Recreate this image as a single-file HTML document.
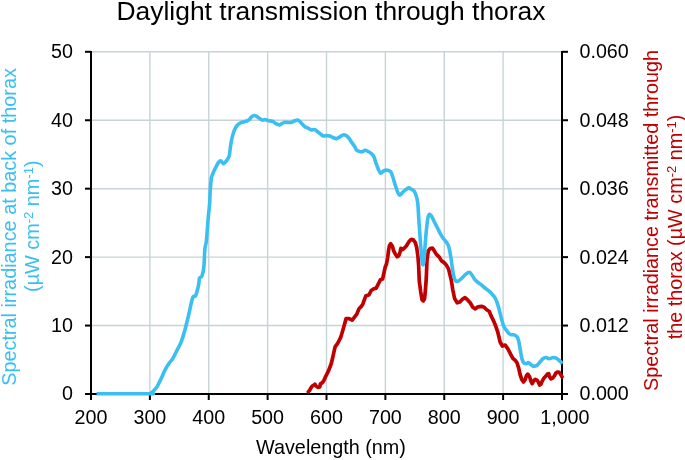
<!DOCTYPE html><html><head><meta charset="utf-8"><style>html,body{margin:0;padding:0;background:#fff;}svg{display:block;will-change:transform;} text{font-family:"Liberation Sans",sans-serif;}</style></head><body><svg width="685" height="460" viewBox="0 0 685 460"><g stroke="#c7d4d6" stroke-width="1.4"><line x1="149.88" y1="51.80" x2="149.88" y2="394.00"/><line x1="208.75" y1="51.80" x2="208.75" y2="394.00"/><line x1="267.62" y1="51.80" x2="267.62" y2="394.00"/><line x1="326.50" y1="51.80" x2="326.50" y2="394.00"/><line x1="385.38" y1="51.80" x2="385.38" y2="394.00"/><line x1="444.25" y1="51.80" x2="444.25" y2="394.00"/><line x1="503.12" y1="51.80" x2="503.12" y2="394.00"/><line x1="91.00" y1="325.56" x2="562.00" y2="325.56"/><line x1="91.00" y1="257.12" x2="562.00" y2="257.12"/><line x1="91.00" y1="188.68" x2="562.00" y2="188.68"/><line x1="91.00" y1="120.24" x2="562.00" y2="120.24"/><line x1="91.00" y1="51.80" x2="562.00" y2="51.80"/></g><g stroke="#000" stroke-width="2"><line x1="91.00" y1="51.00" x2="91.00" y2="400.00"/><line x1="562.00" y1="51.00" x2="562.00" y2="400.00"/><line x1="85.00" y1="394.00" x2="568.00" y2="394.00"/><line x1="85.00" y1="325.56" x2="91.00" y2="325.56"/><line x1="562.00" y1="325.56" x2="568.00" y2="325.56"/><line x1="85.00" y1="257.12" x2="91.00" y2="257.12"/><line x1="562.00" y1="257.12" x2="568.00" y2="257.12"/><line x1="85.00" y1="188.68" x2="91.00" y2="188.68"/><line x1="562.00" y1="188.68" x2="568.00" y2="188.68"/><line x1="85.00" y1="120.24" x2="91.00" y2="120.24"/><line x1="562.00" y1="120.24" x2="568.00" y2="120.24"/><line x1="85.00" y1="51.80" x2="91.00" y2="51.80"/><line x1="562.00" y1="51.80" x2="568.00" y2="51.80"/><line x1="149.88" y1="394.00" x2="149.88" y2="400.00"/><line x1="208.75" y1="394.00" x2="208.75" y2="400.00"/><line x1="267.62" y1="394.00" x2="267.62" y2="400.00"/><line x1="326.50" y1="394.00" x2="326.50" y2="400.00"/><line x1="385.38" y1="394.00" x2="385.38" y2="400.00"/><line x1="444.25" y1="394.00" x2="444.25" y2="400.00"/><line x1="503.12" y1="394.00" x2="503.12" y2="400.00"/></g><path d="M308.3,391.7 L309.6,390.4 L310.9,387.8 L312.2,386.1 L313.9,385.2 L315.0,384.3 L316.1,386.1 L317.8,387.4 L319.8,387.0 L320.4,383.9 L322.2,382.8 L323.5,381.3 L325.2,377.4 L327.0,373.9 L328.7,370.4 L330.0,367.0 L331.3,363.5 L332.6,358.0 L333.4,354.3 L335.1,346.9 L337.8,343.2 L340.6,337.7 L343.2,329.0 L344.6,324.0 L346.1,318.6 L349.1,318.6 L352.2,320.1 L354.5,317.1 L356.8,314.1 L359.0,308.7 L361.3,306.4 L362.8,304.2 L364.4,299.6 L365.9,295.8 L368.9,295.0 L371.2,290.5 L373.5,288.9 L376.2,288.2 L378.1,284.4 L380.4,279.8 L382.6,279.0 L383.9,273.1 L385.2,267.2 L386.5,263.9 L387.6,258.1 L388.5,250.9 L389.4,245.7 L390.7,243.7 L392.4,246.3 L393.7,250.9 L395.4,254.2 L397.2,256.8 L398.9,255.5 L400.2,251.5 L400.9,248.3 L402.5,249.6 L404.2,248.3 L406.1,246.3 L407.7,243.7 L409.4,241.1 L411.3,239.4 L413.3,239.8 L415.2,242.4 L416.6,247.0 L417.9,256.1 L418.6,265.0 L419.3,281.3 L420.7,291.7 L422.0,299.6 L423.3,300.9 L424.6,298.7 L425.4,290.0 L426.3,278.0 L427.0,260.0 L428.3,250.9 L430.1,248.5 L432.4,248.0 L433.9,250.3 L436.2,254.1 L439.3,257.1 L441.5,260.9 L443.8,262.4 L446.1,264.7 L448.5,268.9 L451.1,279.3 L452.8,289.8 L454.6,298.5 L457.2,302.8 L459.8,302.0 L462.4,299.3 L465.0,297.6 L467.6,299.9 L470.2,302.8 L472.8,307.2 L475.4,308.9 L478.0,306.8 L481.5,306.3 L484.1,307.2 L486.7,309.8 L489.3,311.5 L491.1,315.9 L493.7,321.1 L495.8,326.3 L497.8,332.2 L500.2,342.3 L502.4,346.0 L505.2,345.1 L507.9,348.8 L510.7,354.3 L513.0,358.6 L515.2,360.2 L517.0,362.8 L518.7,368.1 L520.0,374.1 L521.7,379.4 L523.5,382.0 L525.2,379.4 L526.5,375.5 L527.8,374.1 L529.6,376.8 L530.9,381.1 L532.2,383.7 L533.5,381.1 L535.2,379.4 L537.0,380.2 L538.3,382.0 L539.6,385.0 L540.9,384.2 L542.2,381.1 L543.9,378.1 L545.7,376.3 L547.4,374.1 L548.7,373.7 L549.6,376.8 L550.9,378.9 L552.6,378.1 L554.4,375.9 L555.7,373.3 L557.4,372.0 L559.2,372.4 L560.5,374.1 L562.0,376.8" fill="none" stroke="#c00000" stroke-width="3.7" stroke-linejoin="round" stroke-linecap="round"/><path d="M96.60,393.75 C105.33,393.74 139.93,393.81 149.00,393.70 C158.07,393.59 150.18,393.65 151.00,393.10 C151.82,392.55 152.83,391.57 153.90,390.40 C154.97,389.23 156.10,388.27 157.40,386.10 C158.70,383.93 160.40,380.15 161.70,377.40 C163.00,374.65 163.88,372.07 165.20,369.60 C166.52,367.13 168.30,364.48 169.60,362.60 C170.90,360.72 171.85,360.18 173.00,358.30 C174.15,356.42 175.18,353.92 176.50,351.30 C177.82,348.68 179.60,345.78 180.90,342.60 C182.20,339.42 183.28,335.68 184.30,332.20 C185.32,328.72 186.25,324.68 187.00,321.70 C187.75,318.72 187.85,318.32 188.80,314.30 C189.75,310.28 191.57,300.70 192.70,297.60 C193.83,294.50 194.62,297.80 195.60,295.70 C196.58,293.60 197.95,287.93 198.60,285.00 C199.25,282.07 198.95,279.57 199.50,278.10 C200.05,276.63 201.18,277.98 201.90,276.20 C202.62,274.42 203.38,270.50 203.80,267.40 C204.22,264.30 204.20,260.87 204.40,257.60 C204.60,254.33 204.67,250.60 205.00,247.80 C205.33,245.00 205.87,245.78 206.40,240.80 C206.93,235.82 207.68,223.87 208.20,217.90 C208.72,211.93 209.20,208.82 209.50,205.00 C209.80,201.18 209.87,197.65 210.00,195.00 C210.13,192.35 210.15,191.17 210.30,189.10 C210.45,187.03 210.72,184.50 210.90,182.60 C211.08,180.70 211.13,179.05 211.40,177.70 C211.67,176.35 212.05,175.67 212.50,174.50 C212.95,173.33 213.47,172.07 214.10,170.70 C214.73,169.33 215.57,167.67 216.30,166.30 C217.03,164.93 217.77,163.40 218.50,162.50 C219.23,161.60 220.07,160.90 220.70,160.90 C221.33,160.90 221.80,162.05 222.30,162.50 C222.80,162.95 223.17,163.68 223.70,163.60 C224.23,163.52 224.83,162.73 225.50,162.00 C226.17,161.27 227.07,160.30 227.70,159.20 C228.33,158.10 228.95,156.60 229.30,155.40 C229.65,154.20 229.57,153.73 229.80,152.00 C230.03,150.27 230.33,147.32 230.70,145.00 C231.07,142.68 231.50,140.27 232.00,138.10 C232.50,135.93 233.05,133.82 233.70,132.00 C234.35,130.18 235.10,128.50 235.90,127.20 C236.70,125.90 237.55,125.00 238.50,124.20 C239.45,123.40 240.58,122.82 241.60,122.40 C242.62,121.98 243.58,121.98 244.60,121.70 C245.62,121.42 246.83,121.15 247.70,120.70 C248.57,120.25 249.15,119.65 249.80,119.00 C250.45,118.35 250.80,117.38 251.60,116.80 C252.40,116.22 253.67,115.52 254.60,115.50 C255.53,115.48 256.28,116.15 257.20,116.70 C258.12,117.25 259.22,118.22 260.10,118.80 C260.98,119.38 261.72,120.07 262.50,120.20 C263.28,120.33 263.93,119.57 264.80,119.60 C265.67,119.63 266.73,120.15 267.70,120.40 C268.67,120.65 269.72,120.93 270.60,121.10 C271.48,121.27 272.12,120.97 273.00,121.40 C273.88,121.83 274.83,123.12 275.90,123.70 C276.97,124.28 278.43,124.90 279.40,124.90 C280.37,124.90 280.83,124.13 281.70,123.70 C282.57,123.27 283.43,122.50 284.60,122.30 C285.77,122.10 287.53,122.50 288.70,122.50 C289.87,122.50 290.62,122.58 291.60,122.30 C292.58,122.02 293.62,121.18 294.60,120.80 C295.58,120.42 296.57,119.83 297.50,120.00 C298.43,120.17 299.35,121.07 300.20,121.80 C301.05,122.53 301.73,123.53 302.60,124.40 C303.47,125.27 304.43,126.33 305.40,127.00 C306.37,127.67 307.40,127.92 308.40,128.40 C309.40,128.88 310.42,129.70 311.40,129.90 C312.38,130.10 313.32,129.33 314.30,129.60 C315.28,129.87 316.30,130.78 317.30,131.50 C318.30,132.22 319.30,133.17 320.30,133.90 C321.30,134.63 322.30,135.62 323.30,135.90 C324.30,136.18 325.20,135.60 326.30,135.60 C327.40,135.60 328.80,135.58 329.90,135.90 C331.00,136.22 331.80,137.05 332.90,137.50 C334.00,137.95 335.40,138.67 336.50,138.60 C337.60,138.53 338.50,137.68 339.50,137.10 C340.50,136.52 341.52,135.43 342.50,135.10 C343.48,134.77 344.42,134.70 345.40,135.10 C346.38,135.50 347.40,136.37 348.40,137.50 C349.40,138.63 350.40,140.47 351.40,141.90 C352.40,143.33 353.50,144.70 354.40,146.10 C355.30,147.50 355.90,149.40 356.80,150.30 C357.70,151.20 358.90,151.25 359.80,151.50 C360.70,151.75 361.30,152.00 362.20,151.80 C363.10,151.60 364.20,150.35 365.20,150.30 C366.20,150.25 367.12,150.90 368.20,151.50 C369.28,152.10 370.77,153.08 371.70,153.90 C372.63,154.72 373.07,154.83 373.80,156.40 C374.53,157.97 375.33,161.13 376.10,163.30 C376.87,165.47 377.63,167.75 378.40,169.40 C379.17,171.05 379.82,172.95 380.70,173.20 C381.58,173.45 382.68,171.42 383.70,170.90 C384.72,170.38 385.65,169.98 386.80,170.10 C387.95,170.22 389.60,170.45 390.60,171.60 C391.60,172.75 392.05,174.83 392.80,177.00 C393.55,179.17 394.33,182.20 395.10,184.60 C395.87,187.00 396.63,189.62 397.40,191.40 C398.17,193.18 398.82,195.17 399.70,195.30 C400.58,195.43 401.68,193.15 402.70,192.20 C403.72,191.25 404.78,190.32 405.80,189.60 C406.82,188.88 407.90,187.97 408.80,187.90 C409.70,187.83 410.35,188.72 411.20,189.20 C412.05,189.68 413.07,189.72 413.90,190.80 C414.73,191.88 415.55,193.58 416.20,195.70 C416.85,197.82 417.37,199.58 417.80,203.50 C418.23,207.42 418.40,213.32 418.80,219.20 C419.20,225.08 419.77,232.92 420.20,238.80 C420.63,244.68 421.03,250.42 421.40,254.50 C421.77,258.58 422.10,261.63 422.40,263.30 C422.70,264.97 422.93,264.98 423.20,264.50 C423.47,264.02 423.65,264.03 424.00,260.40 C424.35,256.77 424.85,248.25 425.30,242.70 C425.75,237.15 426.25,231.33 426.70,227.10 C427.15,222.87 427.52,219.43 428.00,217.30 C428.48,215.17 429.00,214.47 429.60,214.30 C430.20,214.13 430.78,214.98 431.60,216.30 C432.42,217.62 433.52,220.25 434.50,222.20 C435.48,224.15 436.52,226.05 437.50,228.00 C438.48,229.95 439.47,232.22 440.40,233.90 C441.33,235.58 442.15,236.77 443.10,238.10 C444.05,239.43 445.22,240.63 446.10,241.90 C446.98,243.17 447.77,244.05 448.40,245.70 C449.03,247.35 449.40,249.27 449.90,251.80 C450.40,254.33 451.05,258.63 451.40,260.90 C451.75,263.17 451.62,262.90 452.00,265.40 C452.38,267.90 453.07,273.28 453.70,275.90 C454.33,278.52 454.93,280.30 455.80,281.10 C456.67,281.90 457.80,281.28 458.90,280.70 C460.00,280.12 461.23,278.70 462.40,277.60 C463.57,276.50 464.75,274.97 465.90,274.10 C467.05,273.23 468.28,272.25 469.30,272.40 C470.32,272.55 471.12,273.85 472.00,275.00 C472.88,276.15 473.60,278.05 474.60,279.30 C475.60,280.55 476.85,281.57 478.00,282.50 C479.15,283.43 480.33,283.98 481.50,284.90 C482.67,285.82 483.83,287.03 485.00,288.00 C486.17,288.97 487.33,289.68 488.50,290.70 C489.67,291.72 490.85,292.80 492.00,294.10 C493.15,295.40 494.40,296.62 495.40,298.50 C496.40,300.38 497.18,302.80 498.00,305.40 C498.82,308.00 499.67,311.67 500.30,314.10 C500.93,316.53 501.25,318.02 501.80,320.00 C502.35,321.98 503.00,324.50 503.60,326.00 C504.20,327.50 504.80,328.10 505.40,329.00 C506.00,329.90 506.60,330.65 507.20,331.40 C507.80,332.15 508.40,332.97 509.00,333.50 C509.60,334.03 510.12,334.38 510.80,334.60 C511.48,334.82 512.32,334.65 513.10,334.80 C513.88,334.95 514.80,335.08 515.50,335.50 C516.20,335.92 516.80,336.50 517.30,337.30 C517.80,338.10 518.10,338.80 518.50,340.30 C518.90,341.80 519.30,344.10 519.70,346.30 C520.10,348.50 520.50,351.32 520.90,353.50 C521.30,355.68 521.60,357.82 522.10,359.40 C522.60,360.98 523.20,362.30 523.90,363.00 C524.60,363.70 525.57,363.67 526.30,363.60 C527.03,363.53 527.60,362.50 528.30,362.60 C529.00,362.70 529.73,363.63 530.50,364.20 C531.27,364.77 532.12,365.70 532.90,366.00 C533.68,366.30 534.42,366.20 535.20,366.00 C535.98,365.80 536.80,365.47 537.60,364.80 C538.40,364.13 539.23,362.90 540.00,362.00 C540.77,361.10 541.47,360.10 542.20,359.40 C542.93,358.70 543.73,358.12 544.40,357.80 C545.07,357.48 545.50,357.37 546.20,357.50 C546.90,357.63 547.82,358.48 548.60,358.60 C549.38,358.72 550.08,358.38 550.90,358.20 C551.72,358.02 552.63,357.50 553.50,357.50 C554.37,357.50 555.23,357.78 556.10,358.20 C556.97,358.62 557.90,359.37 558.70,360.00 C559.50,360.63 560.32,361.37 560.90,362.00 C561.48,362.63 561.98,363.50 562.20,363.80" fill="none" stroke="#3bbff3" stroke-width="3.6" stroke-linejoin="round"/><g font-size="19.7" fill="#000"><text x="73" y="400.4" text-anchor="end">0</text><text x="73" y="332.0" text-anchor="end">10</text><text x="73" y="263.5" text-anchor="end">20</text><text x="73" y="195.1" text-anchor="end">30</text><text x="73" y="126.6" text-anchor="end">40</text><text x="73" y="58.2" text-anchor="end">50</text><text x="579.5" y="400.4">0.000</text><text x="579.5" y="332.0">0.012</text><text x="579.5" y="263.5">0.024</text><text x="579.5" y="195.1">0.036</text><text x="579.5" y="126.6">0.048</text><text x="579.5" y="58.2">0.060</text><text x="91.0" y="424" text-anchor="middle">200</text><text x="149.9" y="424" text-anchor="middle">300</text><text x="208.8" y="424" text-anchor="middle">400</text><text x="267.6" y="424" text-anchor="middle">500</text><text x="326.5" y="424" text-anchor="middle">600</text><text x="385.4" y="424" text-anchor="middle">700</text><text x="444.2" y="424" text-anchor="middle">800</text><text x="503.1" y="424" text-anchor="middle">900</text><text x="564.9" y="424" text-anchor="middle">1,000</text></g><text x="331" y="453.9" font-size="19.8" text-anchor="middle">Wavelength (nm)</text><text x="331.0" y="19.7" font-size="26.45" text-anchor="middle">Daylight transmission through thorax</text><g fill="#3bbff3" font-size="19.85" text-anchor="middle"><text transform="translate(16.4,227.0) rotate(-90)">Spectral irradiance at back of thorax</text><text transform="translate(39.2,226.2) rotate(-90)">(µW cm<tspan font-size="13" dy="-6.5">-2</tspan><tspan dy="6.5"> nm</tspan><tspan font-size="13" dy="-6.5">-1</tspan><tspan dy="6.5">)</tspan></text></g><g fill="#c00000" font-size="19.8" text-anchor="middle"><text transform="translate(657.8,220.5) rotate(-90)">Spectral irradiance transmitted through</text><text transform="translate(682,227) rotate(-90)">the thorax (µW cm<tspan font-size="13" dy="-6.5">-2</tspan><tspan dy="6.5"> nm</tspan><tspan font-size="13" dy="-6.5">-1</tspan><tspan dy="6.5">)</tspan></text></g></svg></body></html>
